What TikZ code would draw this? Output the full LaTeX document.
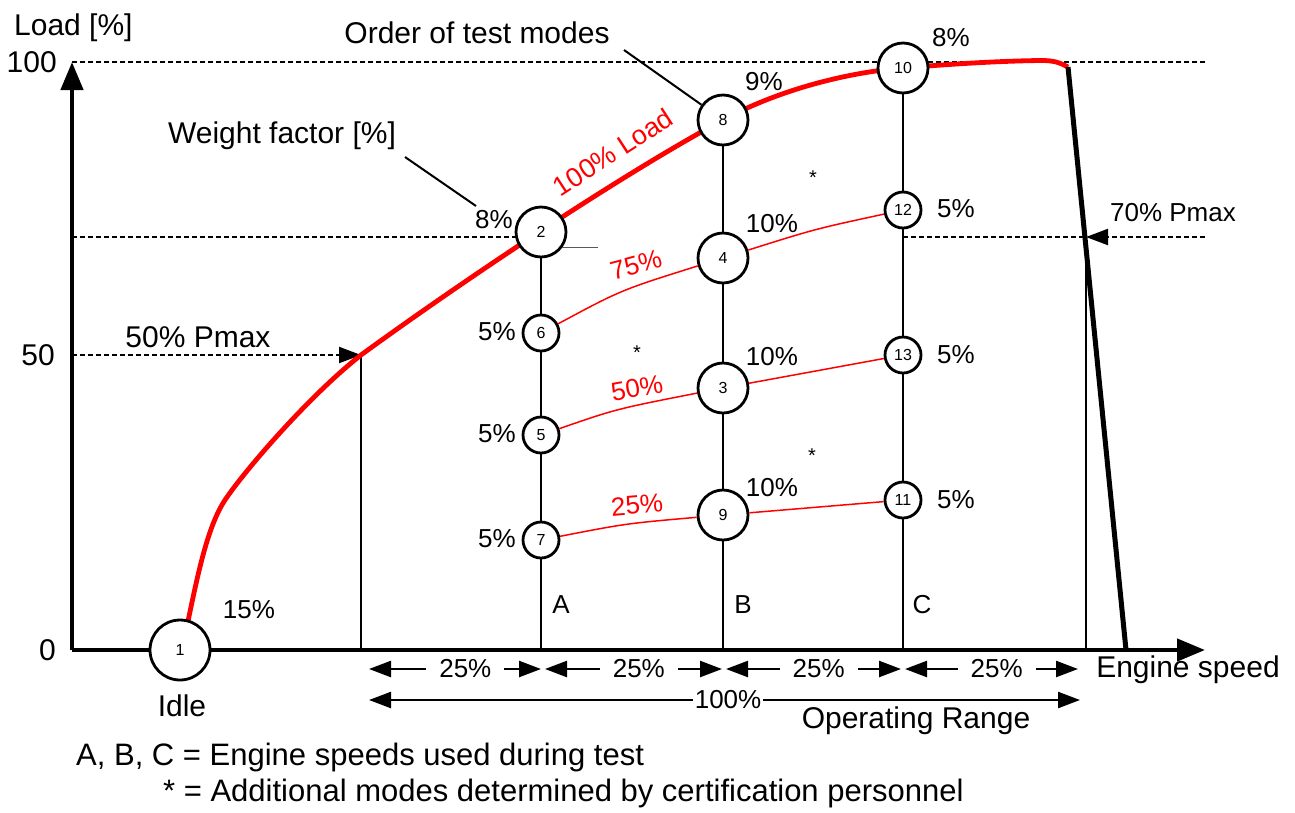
\documentclass[tikz,border=0pt]{standalone}
\usepackage{fontspec}
\setmainfont{Liberation Sans}
\usetikzlibrary{arrows.meta}
\newcommand{\myfs}[1]{\fontsize{#1}{#1}\selectfont}
\tikzset{
  bigc/.style={circle, draw, line width=2.8pt, fill=white, minimum size=50pt, inner sep=0pt, font=\myfs{16}},
  smallc/.style={bigc, minimum size=36pt},
  idlec/.style={bigc, minimum size=60pt},
  lbl/.style={font=\myfs{26}, inner sep=0pt},
  biglbl/.style={font=\myfs{30}, inner sep=0pt},
  footlbl/.style={font=\myfs{31}, inner sep=0pt},
  redlbl/.style={lbl, text=red},
  guide/.style={line width=2.2pt, dash pattern=on 5pt off 3pt},
  guidearrow/.style={guide, -{Triangle[length=22pt,width=16pt]}},
  axisline/.style={line width=4.5pt, -{Triangle[length=28pt,width=22pt]}},
  speedline/.style={line width=2.6pt},
  thinv/.style={line width=2pt},
  redthick/.style={red, line width=4.8pt, line join=round},
  redthin/.style={red, line width=1.5pt},
  leader/.style={line width=2pt},
  dimarrow/.style={line width=2.4pt, {Triangle[length=22pt,width=16pt]}-{Triangle[length=22pt,width=16pt]}},
  dimlbl/.style={font=\myfs{26}, fill=white, inner xsep=13pt, inner ysep=2pt}
}
\begin{document}
\begin{tikzpicture}[x=1pt,y=-1pt]
\useasboundingbox (0,0) rectangle (1295,812);
% key coordinates
\coordinate (origin) at (72,650);
\coordinate (ytip) at (72,62);
\coordinate (xtip) at (1205,650);
\coordinate (p1) at (180,650);
\coordinate (p2) at (541,232);
\coordinate (p8) at (723,120);
\coordinate (p10) at (903,68);
\coordinate (p50) at (361,355);
\coordinate (p70) at (1086,237);
\coordinate (lim) at (1068,67);
\coordinate (nmax) at (1126,650);
% guide lines
\draw[guide] (ytip) -- (1205,62);
\draw[guide] (72,237) -- (516,237);
\draw[guide] (903,237) -- (p70);
\draw[guidearrow] (1205,237) -- (p70);
\draw[guidearrow] (72,355) -- (p50);
\draw[thinv] (p50) -- (361,650);
\draw[thinv] (p70) -- (1086,650);
% full load curve
\draw[redthick] (185,635) .. controls (195,590) and (205,530) .. (225,500)
  .. controls (245,470) and (310,395) .. (p50)
  .. controls (450,290) and (615,178) .. (p8)
  .. controls (780,89) and (850,72) .. (p10)
  .. controls (950,64) and (1000,61) .. (1040,60.5)
  .. controls (1055,60.3) and (1060,63) .. (lim);
\draw[line width=5pt] (lim) -- (nmax);
% axes
\draw[axisline] (origin) -- (ytip);
\draw[axisline] (origin) -- (xtip);
% mode circles
\node[idlec] (n1) at (p1) {1};
\node[bigc] (n2) at (p2) {2};
\node[bigc] (n8) at (p8) {8};
\node[bigc] (n10) at (p10) {10};
\node[bigc] (n4) at (723,258) {4};
\node[bigc] (n3) at (723,388) {3};
\node[bigc] (n9) at (723,515) {9};
\node[smallc] (n6) at (541,333) {6};
\node[smallc] (n5) at (541,435) {5};
\node[smallc] (n7) at (541,540) {7};
\node[smallc] (n12) at (903,210) {12};
\node[smallc] (n13) at (903,355) {13};
\node[smallc] (n11) at (903,500) {11};
\coordinate (A0) at (541,650);
\coordinate (B0) at (723,650);
\coordinate (C0) at (903,650);
% speed lines
\draw[speedline] (n2) -- (n6);
\draw[speedline] (n6) -- (n5);
\draw[speedline] (n5) -- (n7);
\draw[speedline] (n7) -- (A0);
\draw[speedline] (n8) -- (n4);
\draw[speedline] (n4) -- (n3);
\draw[speedline] (n3) -- (n9);
\draw[speedline] (n9) -- (B0);
\draw[speedline] (n10) -- (n12);
\draw[speedline] (n12) -- (n13);
\draw[speedline] (n13) -- (n11);
\draw[speedline] (n11) -- (C0);
\draw[gray!70!black, line width=1.2pt] (n2.-37) -- +(36,0);
% partial load lines
\draw[redthin] (n6) .. controls (621,290) .. (n4);
\draw[redthin] (n4) .. controls (815,229) .. (n12);
\draw[redthin] (n5) .. controls (616,409) .. (n3);
\draw[redthin] (n3) -- (n13);
\draw[redthin] (n7) .. controls (626,523.5) .. (n9);
\draw[redthin] (n9) -- (n11);
% red labels
\node[redlbl, font=\myfs{27}, rotate=33] (l100) at (613,152) {100\% Load};
\node[redlbl, rotate=15] (l75) at (636,265) {75\%};
\node[redlbl, rotate=10] (l50) at (637,388) {50\%};
\node[redlbl, rotate=5] (l25) at (637,505) {25\%};
% weight factors
\node[lbl] (w2) at (494,220) {8\%};
\node[lbl] (w8) at (764,82) {9\%};
\node[lbl] (w10) at (951,38) {8\%};
\node[lbl] (w4) at (772,224) {10\%};
\node[lbl] (w12) at (956,209) {5\%};
\node[lbl] (w3) at (772,357) {10\%};
\node[lbl] (w13) at (956,355) {5\%};
\node[lbl] (w9) at (772,488) {10\%};
\node[lbl] (w11) at (956,500) {5\%};
\node[lbl] (w6) at (497,332) {5\%};
\node[lbl] (w5) at (497,434) {5\%};
\node[lbl] (w7) at (497,539) {5\%};
\node[lbl] (w1) at (249,610) {15\%};
% additional modes
\node[font=\myfs{20}, inner sep=0pt] (s1) at (813,178) {*};
\node[font=\myfs{20}, inner sep=0pt] (s2) at (637,353) {*};
\node[font=\myfs{20}, inner sep=0pt] (s3) at (812,456) {*};
% speed letters
\node[lbl] (la) at (561,605) {A};
\node[lbl] (lb) at (743,605) {B};
\node[lbl] (lc) at (922,605) {C};
% axis labels
\node[biglbl, anchor=base west] (yl) at (14,35) {Load [\%]};
\node[biglbl, anchor=east] (y100) at (57,62) {100};
\node[biglbl, anchor=east] (y50) at (55,355) {50};
\node[biglbl, anchor=east] (y0) at (56,650) {0};
\node[biglbl] (xl) at (1188,670) {Engine speed};
\node[biglbl] (idle) at (182,706) {Idle};
\node[biglbl] (p50l) at (198,337) {50\% Pmax};
\node[lbl] (p70l) at (1173,213) {70\% Pmax};
% annotations
\node[biglbl] (ord) at (477,33) {Order of test modes};
\node[biglbl] (wf) at (282,136) {Weight factor [\%]};
\coordinate (ordt) at (624,50);
\coordinate (wft) at (405,157);
\coordinate (wfe) at (476,206);
\draw[leader] (ordt) -- (n8);
\draw[leader] (wft) -- (wfe);
% operating range dimensions
\coordinate (d0) at (369,669);
\coordinate (d1) at (541,669);
\coordinate (d2) at (545,669);
\coordinate (d3) at (722,669);
\coordinate (d4) at (726,669);
\coordinate (d5) at (901,669);
\coordinate (d6) at (905,669);
\coordinate (d7) at (1078,669);
\draw[dimarrow] (d0) -- node[dimlbl, pos=0.56] {25\%} (d1);
\draw[dimarrow] (d2) -- node[dimlbl, pos=0.53] {25\%} (d3);
\draw[dimarrow] (d4) -- node[dimlbl, pos=0.53] {25\%} (d5);
\draw[dimarrow] (d6) -- node[dimlbl, pos=0.53] {25\%} (d7);
\coordinate (r0) at (369,700);
\coordinate (r1) at (1080,700);
\draw[dimarrow] (r0) -- node[dimlbl, inner xsep=2pt, pos=0.505] {100\%} (r1);
\node[biglbl] (opr) at (916,721) {Operating Range};
% footer
\node[footlbl, anchor=west] (f1) at (76,757) {A, B, C = Engine speeds used during test};
\node[footlbl, anchor=west] (f2) at (163,793) {* = Additional modes determined by certification personnel};
\end{tikzpicture}
\end{document}
